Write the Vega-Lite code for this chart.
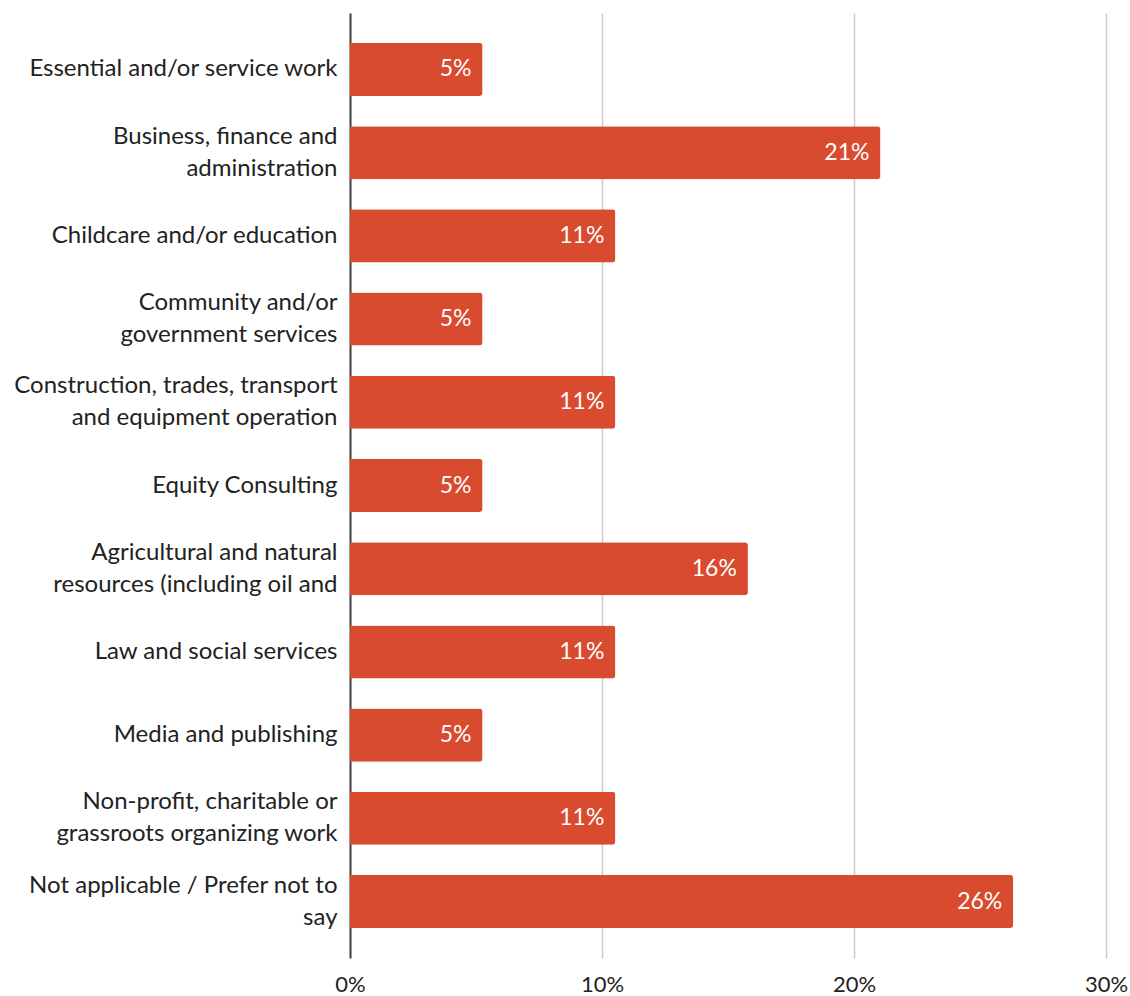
{
  "$schema": "https://vega.github.io/schema/vega-lite/v6.json",
  "autosize": "none",
  "padding": {"left": 350, "top": 13, "right": 24, "bottom": 38},
  "width": 756,
  "height": 945,
  "background": "white",
  "data": {
    "values": [
      {"category": "Essential and/or service work", "value": 0.0526},
      {"category": "Business, finance and|administration", "value": 0.2105},
      {"category": "Childcare and/or education", "value": 0.1053},
      {"category": "Community and/or|government services", "value": 0.0526},
      {"category": "Construction, trades, transport|and equipment operation", "value": 0.1053},
      {"category": "Equity Consulting", "value": 0.0526},
      {"category": "Agricultural and natural|resources (including oil and", "value": 0.1579},
      {"category": "Law and social services", "value": 0.1053},
      {"category": "Media and publishing", "value": 0.0526},
      {"category": "Non-profit, charitable or|grassroots organizing work", "value": 0.1053},
      {"category": "Not applicable / Prefer not to|say", "value": 0.2632}
    ]
  },
  "config": {
    "view": {"stroke": null},
    "font": "Lato"
  },
  "encoding": {
    "y": {
      "field": "category",
      "type": "nominal",
      "sort": null,
      "scale": {"paddingInner": 0.363, "paddingOuter": 0.36},
      "axis": {
        "title": null,
        "labelExpr": "split(datum.label, '|')",
        "labelFontSize": 24,
        "labelLineHeight": 32,
        "labelColor": "#222222",
        "labelFont": "Lato",
        "labelPadding": 13,
        "labelOffset": {"condition": {"test": "indexof(datum.value, '|') >= 0", "value": -16}, "value": 0},
        "ticks": false,
        "domainColor": "#444444",
        "domainWidth": 2,
        "labelLimit": 400
      }
    },
    "x": {
      "field": "value",
      "type": "quantitative",
      "scale": {"domain": [0, 0.3], "nice": false},
      "axis": {
        "title": null,
        "format": ".0%",
        "values": [0, 0.1, 0.2, 0.3],
        "labelFontSize": 22,
        "labelColor": "#222222",
        "labelFont": "Lato",
        "labelPadding": 16,
        "labelFlush": false,
        "ticks": false,
        "domain": false,
        "gridColor": "#cccccc",
        "gridWidth": 1.5
      }
    }
  },
  "layer": [
    {
      "mark": {"type": "bar", "color": "#d94b2e", "cornerRadiusEnd": 3}
    },
    {
      "mark": {"type": "text", "align": "right", "baseline": "middle", "dx": -11, "color": "white", "fontSize": 23, "font": "Lato"},
      "encoding": {
        "text": {"field": "value", "type": "quantitative", "format": ".0%"}
      }
    }
  ]
}
